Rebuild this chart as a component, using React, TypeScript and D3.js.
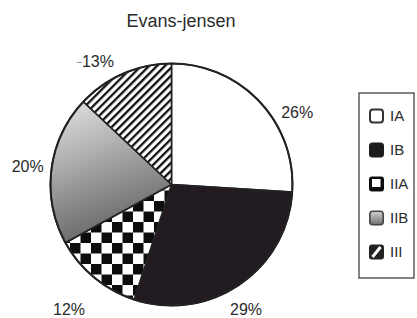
import React from "react";
import * as d3 from "d3";

const categories = ["IA", "IB", "IIA", "IIB", "III"];
const values = [26, 29, 12, 20, 13];
const percentLabels = ["26%", "29%", "12%", "20%", "13%"];
const title = "Evans-jensen";

const W = 417;
const H = 318;
const cx = 171.5;
const cy = 184.5;
const R = 121;
const labelR = 145;
// per-label nudges (layout only)
const labelNudge: Record<string, [number, number]> = {
  IA: [20, 27],
  IB: [-7, 5],
  IIA: [-10, 13],
  IIB: [0, 0],
  III: [-16, 10],
};

const fills: Record<string, string> = {
  IA: "#ffffff",
  IB: "#231f20",
  IIA: "url(#checker)",
  IIB: "url(#grad)",
  III: "url(#stripes)",
};

const FONT = "Liberation Sans, Arial, Helvetica, sans-serif";

export default function App() {
  const pie = d3
    .pie<number>()
    .sort(null)
    .value((d) => d)
    .startAngle(0)
    .endAngle(2 * Math.PI);
  const arcs = pie(values);
  const arc = d3.arc<d3.PieArcDatum<number>>().innerRadius(0).outerRadius(R);
  const labelArc = d3
    .arc<d3.PieArcDatum<number>>()
    .innerRadius(labelR)
    .outerRadius(labelR);

  const legendX = 359;
  const legendY = 93;
  const legendW = 55;
  const legendH = 185;
  const itemY = d3
    .scalePoint<string>()
    .domain(categories)
    .range([legendY + 23, legendY + legendH - 26]);

  return (
    <svg width={W} height={H} style={{ position: "absolute", left: 0, top: 0 }}>
      <defs>
        <pattern id="checker" patternUnits="userSpaceOnUse" width={21} height={21} x={cx} y={cy}>
          <rect width={21} height={21} fill="#fff" />
          <rect width={10.5} height={10.5} fill="#111" />
          <rect x={10.5} y={10.5} width={10.5} height={10.5} fill="#111" />
        </pattern>
        <pattern id="stripes" patternUnits="userSpaceOnUse" width={5.6} height={5.6} patternTransform="rotate(45)">
          <rect width={5.6} height={5.6} fill="#fff" />
          <rect width={2.3} height={5.6} fill="#111" />
        </pattern>
        <linearGradient id="grad" x1="0" y1="0" x2="0.3" y2="1">
          <stop offset="0" stopColor="#e4e4e4" />
          <stop offset="1" stopColor="#666666" />
        </linearGradient>
        <linearGradient id="lgrad" x1="0" y1="0" x2="0" y2="1">
          <stop offset="0" stopColor="#d0d0d0" />
          <stop offset="1" stopColor="#707070" />
        </linearGradient>
        <filter id="blur" x="-30%" y="-30%" width="160%" height="160%">
          <feGaussianBlur stdDeviation="0.7" />
        </filter>
        <filter id="soft" x="-5%" y="-5%" width="110%" height="110%">
          <feGaussianBlur stdDeviation="0.35" />
        </filter>
      </defs>
      <rect width={W} height={H} fill="#fff" />
      <text
        x={181}
        y={27}
        textAnchor="middle"
        fontFamily={FONT}
        fontSize={18}
        fill="#2a2a2a"
      >
        {title}
      </text>
      <g transform={`translate(${cx},${cy})`}>
        <g filter="url(#soft)">
          {arcs.map((a, i) => (
            <path
              key={categories[i]}
              d={arc(a) || ""}
              fill={fills[categories[i]]}
              stroke="#222"
              strokeWidth={1.6}
              strokeLinejoin="round"
            />
          ))}
          <circle r={R} fill="none" stroke="#222" strokeWidth={2} />
        </g>
        {arcs.map((a, i) => {
          const [lx, ly] = labelArc.centroid(a);
          const [nx, ny] = labelNudge[categories[i]];
          const x = lx + nx;
          const y = ly + ny;
          return (
            <g key={"l" + i}>
              {categories[i] === "III" && (
                <line x1={x - 21} x2={x - 16} y1={y + 1} y2={y + 1} stroke="#777" strokeWidth={0.8} />
              )}
              <text
                x={x}
                y={y}
                dy="0.35em"
                textAnchor="middle"
                fontFamily={FONT}
                fontSize={16}
                fill="#2a2a2a"
              >
                {percentLabels[i]}
              </text>
            </g>
          );
        })}
      </g>
      <rect
        x={legendX}
        y={legendY}
        width={legendW}
        height={legendH}
        fill="#fff"
        stroke="#333"
        strokeWidth={1.2}
      />
      {categories.map((c) => {
        const y = itemY(c) as number;
        const sx = legendX + 10;
        const s = 15;
        let marker: React.ReactNode;
        if (c === "IA") {
          marker = <rect x={sx + 1} y={y - s / 2 + 1} width={s - 2} height={s - 2} rx={3} fill="#fff" stroke="#333" strokeWidth={2} />;
        } else if (c === "IB") {
          marker = <rect x={sx} y={y - s / 2} width={s} height={s} rx={3.5} fill="#1c1a1b" />;
        } else if (c === "IIA") {
          marker = (
            <g>
              <rect x={sx} y={y - s / 2} width={s} height={s} rx={3} fill="#111" />
              <rect x={sx + 3} y={y - s / 2 + 2.5} width={s - 6.5} height={s - 7} fill="#fff" />
            </g>
          );
        } else if (c === "IIB") {
          marker = <rect x={sx + 0.8} y={y - s / 2 + 0.8} width={s - 1.6} height={s - 1.6} rx={3} fill="url(#lgrad)" stroke="#444" strokeWidth={1.6} />;
        } else {
          marker = (
            <g>
              <rect x={sx} y={y - s / 2} width={s} height={s} rx={3} fill="#222" />
              <line x1={sx + 3.5} y1={y + 5} x2={sx + 11.5} y2={y - 5} stroke="#fff" strokeWidth={3} />
            </g>
          );
        }
        return (
          <g key={c}>
            <g filter="url(#blur)">{marker}</g>
            <text
              x={sx + s + 6}
              y={y}
              dy="0.36em"
              fontFamily={FONT}
              fontSize={15}
              fill="#2a2a2a"
            >
              {c}
            </text>
          </g>
        );
      })}
    </svg>
  );
}
